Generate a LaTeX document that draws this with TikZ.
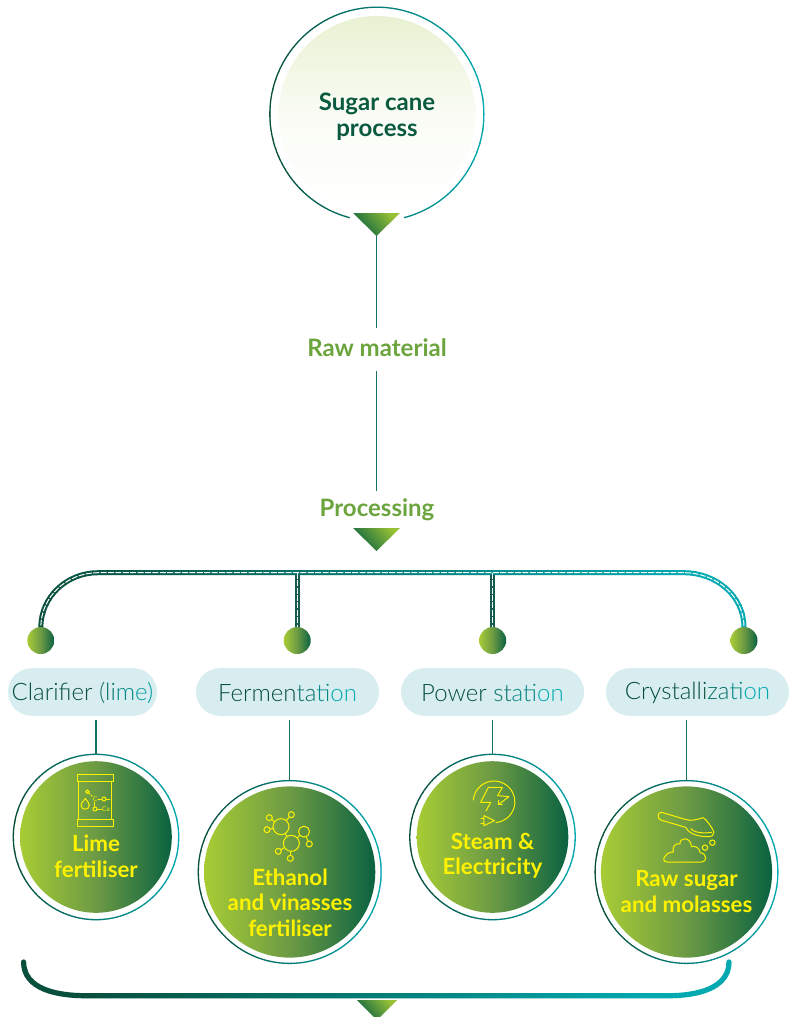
\documentclass[tikz,border=0pt]{standalone}
\usepackage{fontspec}
\setmainfont{Lato}
\newfontfamily\lightf{Lato Light}
\usetikzlibrary{calc}
\definecolor{gdark}{HTML}{084F3C}
\definecolor{gteal}{HTML}{02A9B0}
\definecolor{glime}{HTML}{A8CC35}
\definecolor{gmid}{HTML}{6C9A44}
\definecolor{gforest}{HTML}{0A6241}
\definecolor{gtxt}{HTML}{0A5A40}
\definecolor{gleaf}{HTML}{6CA53E}
\definecolor{gyel}{HTML}{FFF200}
\definecolor{gpill}{HTML}{D7EDF0}
\definecolor{gcon}{HTML}{1A7263}
\definecolor{gpale}{HTML}{E8F1D2}
\definecolor{gpalem}{HTML}{FAFCF5}
\colorlet{ga}{gteal!15!gdark}
\colorlet{gb}{gteal!38!gdark}
\colorlet{gc}{gteal!62!gdark}
\colorlet{gd}{gteal!85!gdark}
% #1,#2: x range of the colour ramp, #3: draw options, #4: path
\newcommand\gradstroke[4]{%
  \foreach \sx in {0,3,...,789}{%
    \pgfmathsetmacro\sp{min(100,max(0,(\sx-#1)/(#2-#1)*100))}%
    \colorlet{slicecol}{gteal!\sp!gdark}%
    \begin{scope}
      \clip (\sx,-20) rectangle ({\sx+3.4},1100);
      \draw[slicecol,#3] #4;
    \end{scope}}}
\tikzset{
  heading/.style={font=\bfseries\fontsize{24}{26.5}\selectfont,align=center,inner sep=0},
  pilltext/.style={font=\lightf\fontsize{24}{25}\selectfont,inner sep=0},
  yeltext/.style={text=gyel,font=\bfseries\fontsize{22.3}{25.5}\selectfont,align=center,inner sep=0},
  pill/.style={fill=gpill,rounded corners=23.8pt,minimum height=47.6pt,inner sep=0},
  disc/.style={circle,inner sep=0,left color=glime,right color=gforest,middle color=gmid},
  dotb/.style={circle,inner sep=0,minimum size=27pt,left color=glime,right color=gforest,middle color=gmid},
  funnel/.style={bottom color=gforest,top color=glime!90!gforest,shading angle=-50},
  conn/.style={gcon,line width=1.2pt},
  whitedash/.style={white,line width=1pt,dash pattern=on 6pt off 1.4pt},
  ico/.style={gyel,line width=1pt,line join=round,line cap=round},
  icos/.style={draw=gyel,line width=1pt,circle,inner sep=0},
  zoomed/.style={shift={#1},x=.3333pt,y=-.3333pt}
}
\begin{document}
\begin{tikzpicture}[x=1pt,y=-1pt]
\useasboundingbox (0,0) rectangle (789,1017);
\fill[white] (0,0) rectangle (789,1017);

% top circle
\node[circle,inner sep=0,minimum size=197pt,top color=gpale,bottom color=white,middle color=gpalem] (top) at (377,114.5) {};
\gradstroke{270}{484}{line width=1.3pt}{(404,217.7) arc[start angle=-75.3,end angle=255.3,radius=107pt]}
\node[heading,text=gtxt] (title) at (377,116.5) {Sugar cane\\process};
\path[funnel] (353,213) -- (400,213) -- (376.5,236) coordinate (f1) -- cycle;

\node[heading,text=gleaf] (raw) at (377,347.5) {Raw material};
\node[heading,text=gleaf] (proc) at (377,510) {Processing};
\draw[conn,shorten >=10pt] (f1) -- (raw.north -| f1);
\draw[conn,shorten <=14pt,shorten >=8pt] (raw.south -| f1) -- (proc.north -| f1);
\path[funnel] (353,528) -- (400,528) -- (376.5,551) -- cycle;

% dots
\coordinate (bl) at (98,572.7);
\coordinate (br) at (684,572.7);
\coordinate (j2) at (297.2,572.7);
\coordinate (j3) at (492.7,572.7);
\coordinate (d1p) at (40.8,640.5);
\coordinate (d2p) at (297.2,640.5);
\coordinate (d3p) at (492.7,640.5);
\coordinate (d4p) at (744,640.5);
\draw[gcon!80!black,line width=5pt] (j2) -- (d2p);
\draw[gcon!80!black,line width=5pt] (j3) -- (d3p);
\gradstroke{40}{690}{line width=5pt}{(d1p) -- ++(0,-13) to[out=90,in=180] (bl) -- (br) to[out=0,in=90] ($(d4p)+(0,-13)$) -- (d4p)}
\draw[whitedash] (d1p) -- ++(0,-13) to[out=90,in=180] (bl) -- (br) to[out=0,in=90] ($(d4p)+(0,-13)$) -- (d4p);
\draw[whitedash] (j2) -- (d2p);
\draw[whitedash] (j3) -- (d3p);
\node[dotb] (d1) at (d1p) {};
\node[dotb] (d2) at (d2p) {};
\node[dotb] (d3) at (d3p) {};
\node[dotb] (d4) at (d4p) {};

% pills
\node[pill,minimum width=149pt] (p1) at (82.5,692) {};
\node[pill,minimum width=183pt] (p2) at (287.5,692) {};
\node[pill,minimum width=183pt] (p3) at (492.5,692) {};
\node[pill,minimum width=183pt] (p4) at (697.5,692) {};
\node[pilltext,yshift=-1pt] at (p1) {\textcolor{gdark}{Clarif{}ier }\textcolor{gcon}{(}\textcolor{gb}{li}\textcolor{gc}{m}\textcolor{gd}{e)}};
\node[pilltext,yshift=-1pt] at (p2) {\textcolor{gdark}{Fermen}\textcolor{gb}{ta}\textcolor{gc}{ti}\textcolor{gteal}{on}};
\node[pilltext,yshift=-1pt] at (p3) {\textcolor{gdark}{Power }\textcolor{gb}{st}\textcolor{gc}{ati}\textcolor{gteal}{on}};
\node[pilltext,yshift=-1pt] at (p4) {\textcolor{gdark}{Crystalli}\textcolor{gb}{za}\textcolor{gc}{ti}\textcolor{gteal}{on}};

% product discs
\node[disc,minimum size=151.6pt] (c1) at (96,837) {};
\node[disc,minimum size=171.2pt] (c2) at (289.7,872) {};
\node[disc,minimum size=151.6pt] (c3) at (492.5,837) {};
\node[disc,minimum size=171.2pt] (c4) at (686.5,872) {};
\gradstroke{13}{179}{line width=1.3pt}{(c1) circle (82.7pt)}
\gradstroke{198}{382}{line width=1.3pt}{(c2) circle (91.4pt)}
\gradstroke{409}{576}{line width=1.3pt}{(c3) circle (82.7pt)}
\gradstroke{594}{778}{line width=1.3pt}{(c4) circle (91.4pt)}
\node[circle,inner sep=0,minimum size=166.6pt] (r1) at (c1) {};
\node[circle,inner sep=0,minimum size=184pt] (r2) at (c2) {};
\node[circle,inner sep=0,minimum size=166.6pt] (r3) at (c3) {};
\node[circle,inner sep=0,minimum size=184pt] (r4) at (c4) {};
\draw[conn,shorten <=4pt] (r1.north |- p1.south) -- (r1.north);
\draw[conn,shorten <=4pt] (r2.north |- p2.south) -- (r2.north);
\draw[conn,shorten <=4pt] (r3.north |- p3.south) -- (r3.north);
\draw[conn,shorten <=4pt] (r4.north |- p4.south) -- (r4.north);

\node[yeltext] (t1) at (96,856.5) {Lime\\fertiliser};
\node[yeltext] (t2) at (290,902.5) {Ethanol\\and vinasses\\fertiliser};
\node[yeltext] (t3) at (492.5,855.5) {Steam \&\\Electricity};
\node[yeltext] (t4) at (686.5,891.5) {Raw sugar\\and molasses};

% lime bag icon
\begin{scope}[zoomed={(0,745)}]
\draw[ico] (232,88) rectangle (340,108);
\draw[ico] (232,222) rectangle (340,243);
\draw[ico] (237,108) -- (237,222);
\draw[ico] (335,108) -- (335,222);
\node[icos,minimum size=3.4pt] (o1) at (262,140) {};
\node[text=gyel,font=\fontsize{6.5}{7}\selectfont,inner sep=.6pt] (cc) at (285,162) {C};
\node[icos,minimum size=4pt] (o2) at (312,162) {};
\node[icos,minimum size=4pt] (o3) at (285,192) {};
\node[text=gyel,font=\fontsize{6.5}{7}\selectfont,inner sep=.6pt] (ca) at (318,192) {Ca};
\draw[ico,dotted,line width=1.3pt] (o1) -- (cc);
\draw[ico] (cc) -- (o2);
\draw[ico] (o2.east) -- ++(10,0);
\draw[ico] (cc) -- (o3);
\draw[ico] (o3) -- (ca);
\draw[ico] (256,160) .. controls (250,170) and (243,172) .. (243,180) .. controls (243,197) and (268,197) .. (268,180) .. controls (268,172) and (261,170) .. (256,160) -- cycle;
\end{scope}

% molecule icon
\begin{scope}[zoomed={(190,770)}]
\node[icos,minimum size=16pt] (m1) at (273,170) {};
\node[icos,minimum size=16pt] (m2) at (304,220) {};
\node[icos,minimum size=11pt] (m3) at (342,185) {};
\node[icos,minimum size=6pt] (s1) at (238,143) {};
\node[icos,minimum size=6pt] (s2) at (304,134) {};
\node[icos,minimum size=6pt] (s3) at (231,179) {};
\node[icos,minimum size=6pt] (s4) at (265,244) {};
\node[icos,minimum size=6pt] (s5) at (301,265) {};
\node[icos,minimum size=6pt] (s6) at (358,222) {};
\draw[ico] (m1) -- (m2);
\draw[ico] (m2) -- (m3);
\draw[ico] (m1) -- (s1);
\draw[ico] (m1) -- (s2);
\draw[ico] (m1) -- (s3);
\draw[ico] (m2) -- (s4);
\draw[ico] (m2) -- (s5);
\draw[ico] (m3) -- (s6);
\end{scope}

% power icon
\begin{scope}[zoomed={(400,745)}]
\draw[ico] (220,165) arc[start angle=175,end angle=-85,radius=20.8pt];
\draw[ico] (242,172) -- (265,127) -- (307,127) -- (293,152) -- (327,155) -- (296,178);
\draw[ico] (296,166) -- (295,178) -- (307,178);
\draw[ico] (242,172) -- (272,172) -- (258,198);
\draw[ico] (252,212) -- (252,242) -- (283,227) -- cycle;
\draw[ico] (243,220) -- (252,220);
\draw[ico] (243,234) -- (252,234);
\end{scope}

% sugar icon
\begin{scope}[zoomed={(590,770)}]
\draw[ico] (215,127) -- (285,148) .. controls (305,155) and (320,148) .. (340,143) .. controls (350,150) and (365,170) .. (372,187) .. controls (372,195) and (365,200) .. (355,200) .. controls (330,200) and (300,195) .. (287,172) -- (212,150) .. controls (200,145) and (203,125) .. (215,127) -- cycle;
\draw[ico] (302,176) .. controls (315,190) and (345,190) .. (365,187);
\draw[ico] (232,276) -- (335,276) .. controls (352,276) and (352,250) .. (330,248) .. controls (330,235) and (315,225) .. (304,230) .. controls (304,200) and (268,200) .. (270,222) .. controls (258,218) and (245,230) .. (250,246) .. controls (225,246) and (210,276) .. (232,276) -- cycle;
\node[icos,minimum size=5.4pt] (b1) at (345,233) {};
\node[icos,minimum size=5.4pt] (b2) at (367,218) {};
\end{scope}

% bottom brace
\coordinate (bandL) at (23.6,962);
\coordinate (bandR) at (729,962);
\coordinate (bm1) at (85.5,995.7);
\coordinate (bm2) at (669,995.7);
\gradstroke{85}{650}{line width=5.2pt,line cap=round}{(bandL) to[out=-90,in=180] (bm1) -- (bm2) to[out=0,in=-90] (bandR)}
\path[funnel] (357,1000) -- (397,1000) -- (377,1020) -- cycle;
\end{tikzpicture}
\end{document}
